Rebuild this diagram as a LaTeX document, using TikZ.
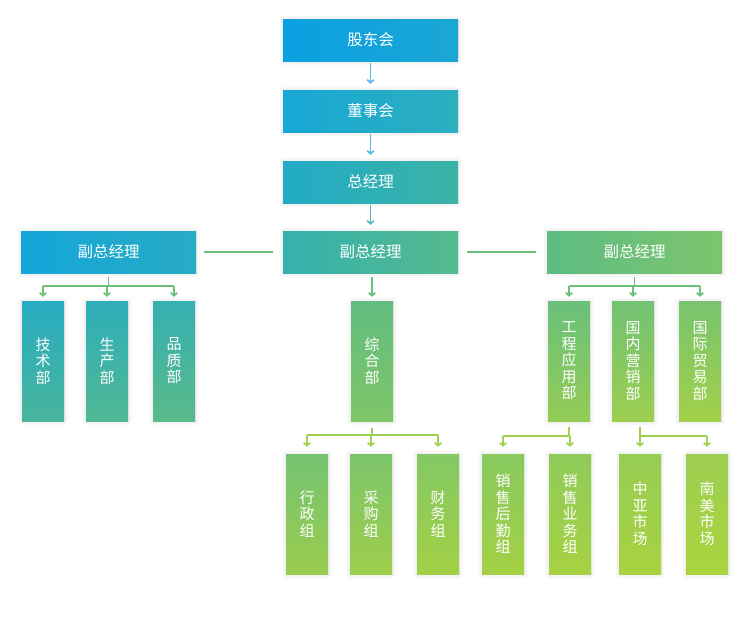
\documentclass[tikz,border=0pt]{standalone}
\usepackage{fontspec}
\newfontfamily\cjk{Noto Sans CJK SC}
\usetikzlibrary{arrows.meta,shadows.blur}
\definecolor{a1}{HTML}{0BA0E2}\definecolor{a2}{HTML}{1AA7D4}
\definecolor{b1}{HTML}{18A8D6}\definecolor{b2}{HTML}{2CAEBE}
\definecolor{c1}{HTML}{22ABC6}\definecolor{c2}{HTML}{3BB3A6}
\definecolor{l1}{HTML}{14A5DA}\definecolor{l2}{HTML}{28ACC4}
\definecolor{m1}{HTML}{34B0AE}\definecolor{m2}{HTML}{55BA8E}
\definecolor{r1}{HTML}{5EBC84}\definecolor{r2}{HTML}{7CC56C}
\definecolor{js1}{HTML}{28ACC2}\definecolor{js2}{HTML}{48B59C}
\definecolor{sc1}{HTML}{2EAEBA}\definecolor{sc2}{HTML}{50B894}
\definecolor{pz1}{HTML}{34B0B2}\definecolor{pz2}{HTML}{5ABA8A}
\definecolor{zh1}{HTML}{62BD80}\definecolor{zh2}{HTML}{7EC568}
\definecolor{gc1}{HTML}{6AC07A}\definecolor{gc2}{HTML}{94CC56}
\definecolor{gn1}{HTML}{72C274}\definecolor{gn2}{HTML}{9CCE50}
\definecolor{gj1}{HTML}{78C46E}\definecolor{gj2}{HTML}{A2D04A}
\definecolor{xz1}{HTML}{74C372}\definecolor{xz2}{HTML}{9ACD4E}
\definecolor{cg1}{HTML}{7CC56C}\definecolor{cg2}{HTML}{9ECE4A}
\definecolor{cw1}{HTML}{84C864}\definecolor{cw2}{HTML}{A2D046}
\definecolor{sh1}{HTML}{88C960}\definecolor{sh2}{HTML}{A4D144}
\definecolor{sy1}{HTML}{8ECB5A}\definecolor{sy2}{HTML}{A6D242}
\definecolor{zy1}{HTML}{96CD54}\definecolor{zy2}{HTML}{A8D340}
\definecolor{nm1}{HTML}{9CCE50}\definecolor{nm2}{HTML}{AAD43E}
\definecolor{lblue}{HTML}{50BAE4}
\definecolor{lteal}{HTML}{4EB8BE}
\definecolor{lgreen}{HTML}{6CC07A}
\definecolor{llime}{HTML}{A0D050}
\tikzset{
 box/.style={draw=none, inner sep=0pt, text=white,
   blur shadow={shadow xshift=0pt, shadow yshift=-0.5pt, shadow blur radius=5pt, shadow opacity=14, shadow blur steps=10}},
 hbox/.style={box, minimum width=175pt, minimum height=42pt, font=\cjk\fontsize{15.5}{16}\selectfont},
 vbox/.style={box, minimum width=42pt, minimum height=120pt, align=center, font=\cjk\fontsize{15}{16.5}\selectfont},
 lr/.style 2 args={left color=#1, right color=#2},
 tb/.style 2 args={top color=#1, bottom color=#2},
 link/.style={line width=1.6pt},
 arr/.style={link, -{Straight Barb[length=3pt,width=6.5pt]}},
 cblue/.style={draw=lblue},
 cteal/.style={draw=lteal},
 cgreen/.style={draw=lgreen},
 clime/.style={draw=llime},
}
\begin{document}
\begin{tikzpicture}[x=1pt,y=-1pt]
\useasboundingbox (0,0) rectangle (746,635);
% top chain
\node[hbox, lr={a1}{a2}] (gd) at (370.5,40) {股东会};
\node[hbox, lr={b1}{b2}] (dsh) at (370.5,111) {董事会};
\node[hbox, lr={c1}{c2}] (zjl) at (370.5,182) {总经理};
% vice managers
\node[hbox, lr={l1}{l2}] (fl) at (108.5,252) {副总经理};
\node[hbox, lr={m1}{m2}] (fc) at (370.5,252) {副总经理};
\node[hbox, lr={r1}{r2}] (fr) at (634.5,252) {副总经理};
% departments
\node[vbox, tb={js1}{js2}] (js) at (43,361) {技\\术\\部};
\node[vbox, tb={sc1}{sc2}] (sc) at (107,361) {生\\产\\部};
\node[vbox, tb={pz1}{pz2}] (pz) at (174,361) {品\\质\\部};
\node[vbox, tb={zh1}{zh2}] (zh) at (372,361) {综\\合\\部};
\node[vbox, tb={gc1}{gc2}] (gc) at (569,361) {工\\程\\应\\用\\部};
\node[vbox, tb={gn1}{gn2}] (gn) at (633,361) {国\\内\\营\\销\\部};
\node[vbox, tb={gj1}{gj2}] (gj) at (700,361) {国\\际\\贸\\易\\部};
% groups
\node[vbox, tb={xz1}{xz2}] (xz) at (307,514) {行\\政\\组};
\node[vbox, tb={cg1}{cg2}] (cg) at (371,514) {采\\购\\组};
\node[vbox, tb={cw1}{cw2}] (cw) at (438,514) {财\\务\\组};
\node[vbox, tb={sh1}{sh2}] (sh) at (503,514) {销\\售\\后\\勤\\组};
\node[vbox, tb={sy1}{sy2}] (sy) at (570,514) {销\\售\\业\\务\\组};
\node[vbox, tb={zy1}{zy2}] (zy) at (640,514) {中\\亚\\市\\场};
\node[vbox, tb={nm1}{nm2}] (nm) at (707,514) {南\\美\\市\\场};
% top arrows
\draw[arr, cblue] ([yshift=-2pt]gd.south) -- ([yshift=6pt]dsh.north);
\draw[arr, cblue] ([yshift=-2pt]dsh.south) -- ([yshift=6pt]zjl.north);
\draw[arr, cteal] ([yshift=-2pt]zjl.south) -- ([yshift=6pt]fc.north);
% horizontal links
\draw[link, cgreen] ([xshift=8pt]fl.east) -- ([xshift=-10pt]fc.west);
\draw[link, cgreen] ([xshift=9pt]fc.east) -- ([xshift=-11pt]fr.west);
% left branch
\draw[link, cgreen] ([yshift=-4pt]fl.south) -- ++(0,9) coordinate (lb);
\draw[link, cgreen] (lb -| js.north) -- (lb -| pz.north);
\foreach \n in {js,sc,pz} \draw[arr, cgreen] (lb -| \n.north) -- ([yshift=4pt]\n.north);
% center branch
\draw[arr, cgreen] ([yshift=-4pt]fc.south -| zh.north) -- ([yshift=4pt]zh.north);
\draw[link, clime] ([yshift=-7pt]zh.south) -- ++(0,7) coordinate (cb);
\draw[link, clime] (cb -| xz.north) -- (cb -| cw.north);
\foreach \n in {xz,cg,cw} \draw[arr, clime] (cb -| \n.north) -- ([yshift=7pt]\n.north);
% right branch
\draw[link, cgreen] ([yshift=-4pt]fr.south) -- ++(0,9) coordinate (rb);
\draw[link, cgreen] (rb -| gc.north) -- (rb -| gj.north);
\foreach \n in {gc,gn,gj} \draw[arr, cgreen] (rb -| \n.north) -- ([yshift=4pt]\n.north);
% right bottom
\draw[link, clime] ([yshift=-6pt]gc.south) -- ++(0,9) coordinate (rb1);
\draw[link, clime] (rb1 -| sh.north) -- (rb1);
\foreach \n in {sh,sy} \draw[arr, clime] (rb1 -| \n.north) -- ([yshift=7pt]\n.north);
\draw[link, clime] ([yshift=-6pt]gn.south -| zy.north) -- ++(0,9) coordinate (rb2);
\draw[link, clime] (rb2) -- (rb2 -| nm.north);
\foreach \n in {zy,nm} \draw[arr, clime] (rb2 -| \n.north) -- ([yshift=7pt]\n.north);
\end{tikzpicture}
\end{document}
